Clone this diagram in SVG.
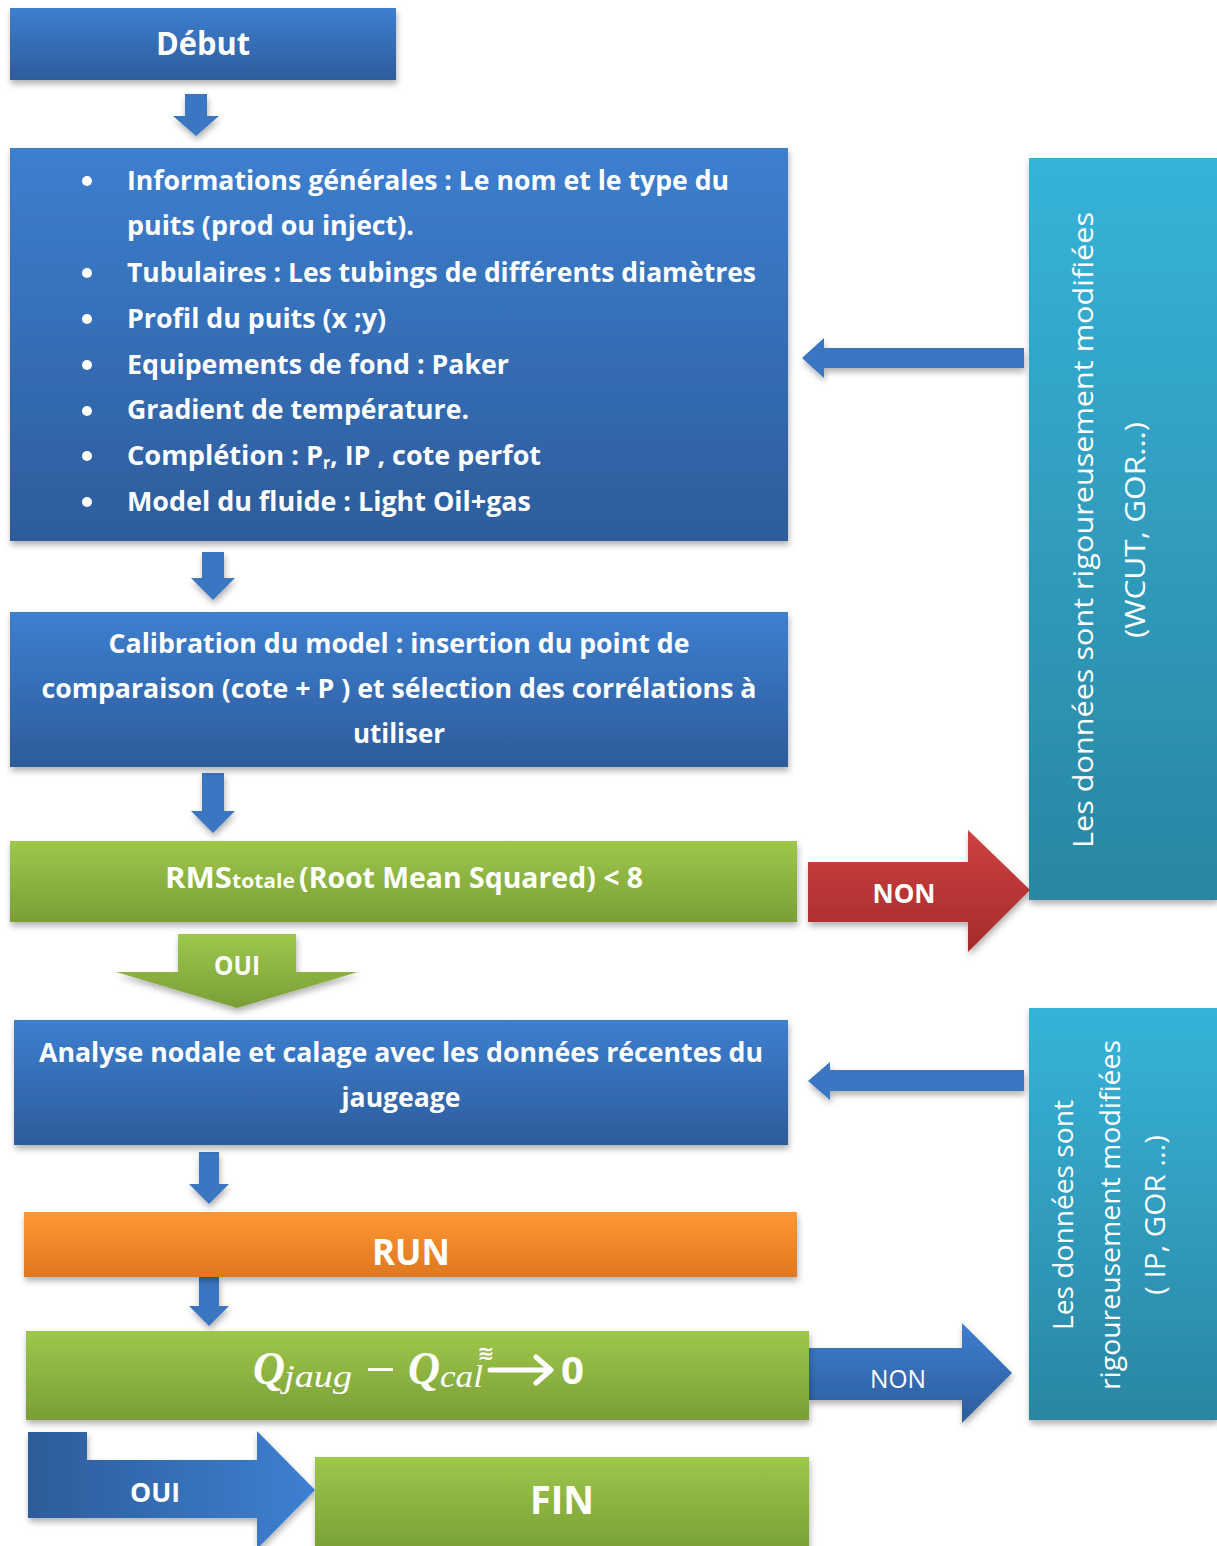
<svg xmlns="http://www.w3.org/2000/svg" width="1217" height="1546" viewBox="0 0 1217 1546">
<defs>
  <linearGradient id="gBlue" x1="0" y1="0" x2="0" y2="1">
    <stop offset="0" stop-color="#3d7fd0"/><stop offset="1" stop-color="#2d5c9b"/>
  </linearGradient>
  <linearGradient id="gGreen" x1="0" y1="0" x2="0" y2="1">
    <stop offset="0" stop-color="#9ec74b"/><stop offset="1" stop-color="#7a9e37"/>
  </linearGradient>
  <linearGradient id="gOrange" x1="0" y1="0" x2="0" y2="1">
    <stop offset="0" stop-color="#ff9834"/><stop offset="1" stop-color="#de771f"/>
  </linearGradient>
  <linearGradient id="gTeal" x1="0" y1="0" x2="0" y2="1">
    <stop offset="0" stop-color="#36b3d9"/><stop offset="1" stop-color="#2a86a2"/>
  </linearGradient>
  <linearGradient id="gRed" x1="0" y1="0" x2="0" y2="1">
    <stop offset="0" stop-color="#cf4141"/><stop offset="1" stop-color="#a32b2b"/>
  </linearGradient>
  <linearGradient id="gBlueH" x1="0" y1="0" x2="1" y2="0">
    <stop offset="0" stop-color="#2d5c99"/><stop offset="1" stop-color="#3d80d2"/>
  </linearGradient>
  <filter id="sh" x="-10%" y="-10%" width="120%" height="130%">
    <feDropShadow dx="1" dy="4" stdDeviation="3" flood-color="#000" flood-opacity="0.3"/>
  </filter>
  <style>
    .t{font-family:"Open Sans","Noto Sans","DejaVu Sans",sans-serif;font-weight:700;fill:#fff;font-size:26px}
    .c{text-anchor:middle}
    .s{font-weight:500;font-size:27px}
    .box{filter:url(#sh)}
    .arr{fill:#3a76c2;filter:url(#sh)}
    .f{font-family:"Liberation Serif","DejaVu Serif",serif;font-style:italic;font-weight:700;fill:#fff}
  </style>
</defs>

<g id="connectors">
  <path class="arr" d="M185,94 H207 V116 H219 L196,136 L173,116 H185 Z"/>
  <path class="arr" d="M202,552 H224 V578 H235 L213,600 L191,578 H202 Z"/>
  <path class="arr" d="M202,773 H224 V811 H235 L213,833 L191,811 H202 Z"/>
  <path class="arr" d="M199,1152 H219 V1184 H229 L209,1204 L189,1184 H199 Z"/>
  <path class="arr" d="M199,1276 H219 V1306 H229 L209,1326 L189,1306 H199 Z"/>
  <path class="arr" d="M1024,348 V368 H824 V378 L802,358 L824,338 V348 Z"/>
  <path class="arr" d="M1024,1070 V1091 H830 V1100 L808,1081 L830,1062 V1070 Z"/>
  <g id="oui1">
    <path d="M178,934 H296 V972 H358 L237,1008 L116,972 H178 Z" fill="url(#gGreen)" filter="url(#sh)"/>
    <text class="t c" x="237" y="975" textLength="46" lengthAdjust="spacingAndGlyphs">OUI</text>
  </g>
  <g id="non1">
    <path d="M808,862 H968 V830 L1030,890 L968,952 V922 H808 Z" fill="url(#gRed)" filter="url(#sh)"/>
    <text class="t c" x="904" y="903" textLength="63" lengthAdjust="spacingAndGlyphs">NON</text>
  </g>
  <g id="non2">
    <path d="M808,1348 H962 V1323 L1012,1373 L962,1423 V1400 H808 Z" fill="url(#gBlue)" filter="url(#sh)"/>
    <text class="t c" x="898" y="1388" style="font-weight:400" textLength="56" lengthAdjust="spacingAndGlyphs">NON</text>
  </g>
  <g id="oui2">
    <path d="M28,1432 H87 V1460 H257 V1431 L315,1490 L257,1549 V1518 H28 Z" fill="url(#gBlueH)" filter="url(#sh)"/>
    <text class="t c" x="155" y="1502" textLength="50" lengthAdjust="spacingAndGlyphs">OUI</text>
  </g>
</g>

<g id="debut">
  <rect class="box" x="10" y="8" width="386" height="72" fill="url(#gBlue)"/>
  <text class="t c" x="203" y="55" style="font-size:32px" textLength="94" lengthAdjust="spacingAndGlyphs">Début</text>
</g>

<g id="infos">
  <rect class="box" x="10" y="148" width="778" height="393" fill="url(#gBlue)"/>
  <g fill="#fff">
    <circle cx="87" cy="181" r="5"/>
    <circle cx="87" cy="273" r="5"/>
    <circle cx="87" cy="319" r="5"/>
    <circle cx="87" cy="365" r="5"/>
    <circle cx="87" cy="411" r="5"/>
    <circle cx="87" cy="456" r="5"/>
    <circle cx="87" cy="502" r="5"/>
  </g>
  <text class="t" x="127" y="190" textLength="602" lengthAdjust="spacingAndGlyphs">Informations générales : Le nom et le type du</text>
  <text class="t" x="127" y="235" textLength="287" lengthAdjust="spacingAndGlyphs">puits (prod ou inject).</text>
  <text class="t" x="127" y="282" textLength="629" lengthAdjust="spacingAndGlyphs">Tubulaires : Les tubings de différents diamètres</text>
  <text class="t" x="127" y="328" textLength="259" lengthAdjust="spacingAndGlyphs">Profil du puits (x ;y)</text>
  <text class="t" x="127" y="374" textLength="382" lengthAdjust="spacingAndGlyphs">Equipements de fond : Paker</text>
  <text class="t" x="127" y="419" textLength="342" lengthAdjust="spacingAndGlyphs">Gradient de température.</text>
  <text class="t" x="127" y="465"><tspan textLength="196" lengthAdjust="spacingAndGlyphs">Complétion : P</tspan><tspan style="font-size:17px" dy="4" textLength="7" lengthAdjust="spacingAndGlyphs">r</tspan><tspan dy="-4" textLength="211" lengthAdjust="spacingAndGlyphs">, IP , cote perfot</tspan></text>
  <text class="t" x="127" y="511" textLength="404" lengthAdjust="spacingAndGlyphs">Model du fluide : Light Oil+gas</text>
</g>

<g id="calibration">
  <rect class="box" x="10" y="612" width="778" height="155" fill="url(#gBlue)"/>
  <text class="t c" x="399" y="653" textLength="581" lengthAdjust="spacingAndGlyphs">Calibration du model : insertion du point de</text>
  <text class="t c" x="399" y="698" textLength="715" lengthAdjust="spacingAndGlyphs">comparaison (cote + P ) et sélection des corrélations à</text>
  <text class="t c" x="399" y="743" textLength="92" lengthAdjust="spacingAndGlyphs">utiliser</text>
</g>

<g id="rms">
  <rect class="box" x="10" y="841" width="787" height="81" fill="url(#gGreen)"/>
  <text class="t" x="165" y="888" style="font-size:29px"><tspan textLength="67" lengthAdjust="spacingAndGlyphs">RMS</tspan><tspan style="font-size:20px" textLength="63" lengthAdjust="spacingAndGlyphs">totale</tspan><tspan dx="4" textLength="344" lengthAdjust="spacingAndGlyphs">(Root Mean Squared) &lt; 8</tspan></text>
</g>

<g id="side1">
  <rect class="box" x="1029" y="158" width="188" height="742" fill="url(#gTeal)"/>
  <text class="t c s" transform="translate(1093,530) rotate(-90)" textLength="636" lengthAdjust="spacingAndGlyphs">Les données sont rigoureusement modifiées</text>
  <text class="t c s" transform="translate(1145,530) rotate(-90)" textLength="216" lengthAdjust="spacingAndGlyphs">(WCUT, GOR…)</text>
</g>

<g id="analyse">
  <rect class="box" x="14" y="1020" width="774" height="125" fill="url(#gBlue)"/>
  <text class="t c" x="401" y="1062" textLength="724" lengthAdjust="spacingAndGlyphs">Analyse nodale et calage avec les données récentes du</text>
  <text class="t c" x="401" y="1107" textLength="119" lengthAdjust="spacingAndGlyphs">jaugeage</text>
</g>

<g id="run">
  <rect class="box" x="24" y="1212" width="773" height="65" fill="url(#gOrange)"/>
  <text class="t c" x="411" y="1265" style="font-size:36px" textLength="78" lengthAdjust="spacingAndGlyphs">RUN</text>
</g>

<g id="formule">
  <rect class="box" x="26" y="1331" width="783" height="89" fill="url(#gGreen)"/>
  <text class="f" x="253" y="1384" style="font-size:46px" textLength="32" lengthAdjust="spacingAndGlyphs">Q</text>
  <text class="f" x="284" y="1387" style="font-size:32px;font-weight:400" textLength="68" lengthAdjust="spacingAndGlyphs">jaug</text>
  <rect x="368" y="1368" width="25" height="3" fill="#fff"/>
  <text class="f" x="408" y="1384" style="font-size:46px" textLength="32" lengthAdjust="spacingAndGlyphs">Q</text>
  <text class="f" x="440" y="1387" style="font-size:32px;font-weight:400" textLength="43" lengthAdjust="spacingAndGlyphs">cal</text>
  <text class="t c" x="486" y="1360" style="font-size:20px;font-family:'DejaVu Sans',sans-serif">≋</text>
  <path d="M490,1370 H550 M536,1357 L551,1370 L536,1383" fill="none" stroke="#fff" stroke-width="5" stroke-linecap="round" stroke-linejoin="round"/>
  <text class="t" x="561" y="1384" style="font-size:37px" textLength="23" lengthAdjust="spacingAndGlyphs">0</text>
</g>

<g id="side2">
  <rect class="box" x="1029" y="1008" width="188" height="412" fill="url(#gTeal)"/>
  <text class="t c s" transform="translate(1073,1215) rotate(-90)" textLength="230" lengthAdjust="spacingAndGlyphs">Les données sont</text>
  <text class="t c s" transform="translate(1120,1215) rotate(-90)" textLength="350" lengthAdjust="spacingAndGlyphs">rigoureusement modifiées</text>
  <text class="t c s" transform="translate(1165,1215) rotate(-90)" textLength="160" lengthAdjust="spacingAndGlyphs">( IP, GOR …)</text>
</g>

<g id="fin">
  <rect class="box" x="315" y="1457" width="494" height="95" fill="url(#gGreen)"/>
  <text class="t c" x="562" y="1514" style="font-size:40px" textLength="64" lengthAdjust="spacingAndGlyphs">FIN</text>
</g>
</svg>
